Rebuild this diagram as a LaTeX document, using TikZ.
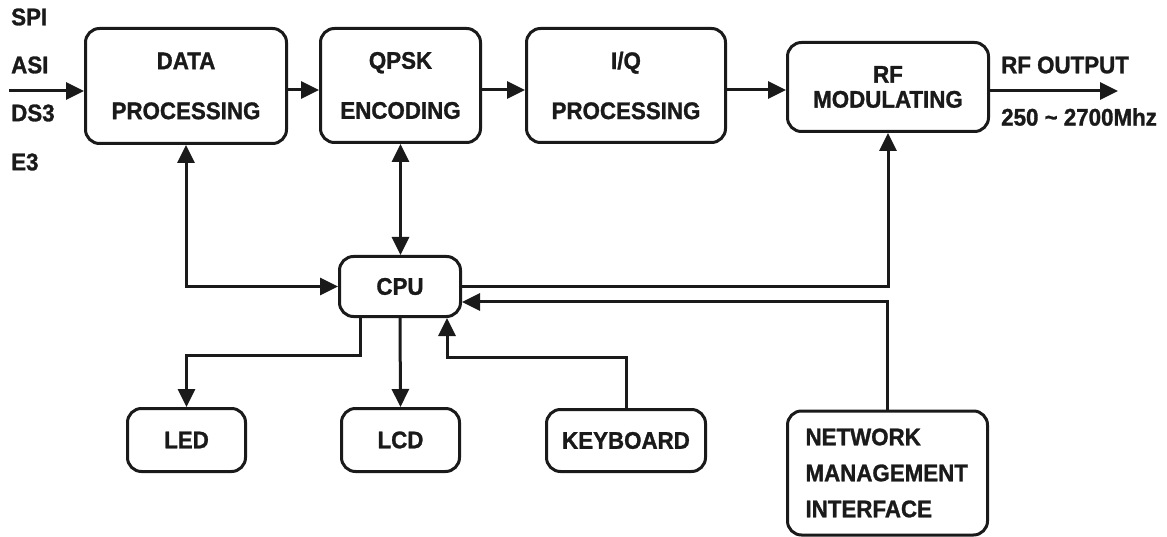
\documentclass[tikz,border=0pt]{standalone}
\usepackage{fontspec}
\setmainfont{Liberation Sans}[BoldFeatures={FakeStretch=0.93,FakeBold=1.2}]
\usetikzlibrary{arrows.meta,calc}
\definecolor{ink}{HTML}{1A1A1A}
\begin{document}
\begin{tikzpicture}[x=1pt,y=-1pt,
  box/.style={draw=ink,line width=3pt,rounded corners=14pt,inner sep=0pt,
    font=\fontsize{24}{27}\selectfont\bfseries,text=ink,align=center},
  lbl/.style={inner sep=0pt,anchor=west,font=\fontsize{24}{27}\selectfont\bfseries,text=ink},
  wire/.style={draw=ink,line width=3pt},
  arr/.style={wire,-{Triangle[length=18pt,width=17pt]}},
  arrb/.style={wire,{Triangle[length=18pt,width=17pt]}-{Triangle[length=18pt,width=17pt]}}]
\useasboundingbox (0,0) rectangle (1167,537);
\fill[white] (0,0) rectangle (1167,537);

% main row boxes
\node[box,minimum width=201pt,minimum height=115pt,font=\fontsize{24}{50}\selectfont\bfseries] (dp) at (186,86) {DATA\\PROCESSING};
\node[box,minimum width=160pt,minimum height=114pt,font=\fontsize{24}{50}\selectfont\bfseries] (qp) at (400.5,85.5) {QPSK\\ENCODING};
\node[box,minimum width=199pt,minimum height=114pt,font=\fontsize{24}{50}\selectfont\bfseries] (iq) at (626,85.5) {I/Q\\PROCESSING};
\node[box,minimum width=201pt,minimum height=89pt,font=\fontsize{24}{25}\selectfont\bfseries] (rf) at (888,87) {RF\\MODULATING};

% cpu and peripherals
\node[box,minimum width=121pt,minimum height=60pt] (cpu) at (400,286.5) {CPU};
\node[box,minimum width=118pt,minimum height=63pt] (led) at (186.5,440) {LED};
\node[box,minimum width=118pt,minimum height=63pt] (lcd) at (400.5,440) {LCD};
\node[box,minimum width=159pt,minimum height=62pt] (kb) at (626,440.5) {KEYBOARD};
\node[box,minimum width=200pt,minimum height=124pt,text width=164pt,inner xsep=18pt,align=left,
  font=\fontsize{24}{36}\selectfont\bfseries] (nm) at (887.5,473) {NETWORK\\MANAGEMENT\\INTERFACE};

% input labels
\node[lbl] (spi) at (11,17) {SPI};
\node[lbl] (asi) at (11,65) {ASI};
\node[lbl] (ds3) at (11,113) {DS3};
\node[lbl] (e3) at (11,162) {E3};
\node[lbl] (rfo) at (1001,65) {RF OUTPUT};
\node[lbl] (freq) at (1001,117) {250 \textasciitilde\ 2700Mhz};

% coordinates
\coordinate (in) at (9,91);
\coordinate (row) at (0,90);
\coordinate (out) at (1118,91);
\coordinate (nmrow) at (0,302);

% main row connectors
\draw[arr] (in) -- (dp.west |- in);
\draw[arr] (dp.east |- row) -- (qp.west |- row);
\draw[arr] (qp.east |- row) -- (iq.west |- row);
\draw[arr] (iq.east |- row) -- (rf.west |- row);
\draw[arr] (rf.east |- out) -- (out);

% cpu connectors
\draw[arrb] (dp.south) |- (cpu.west);
\draw[arrb] (qp.south) -- (qp.south |- cpu.north);
\draw[arr] (cpu.east) -| (rf.south);
\draw[arr] (nm.north) |- (cpu.east |- nmrow);
\draw[arr] ([xshift=-40pt]cpu.south) -- ++(0,37) -| (led.north);
\draw[arr] (cpu.south) -- (lcd.north);
\draw[arr] (kb.north) -- ++(0,-51) -| ([xshift=47pt]cpu.south);
\end{tikzpicture}
\end{document}
